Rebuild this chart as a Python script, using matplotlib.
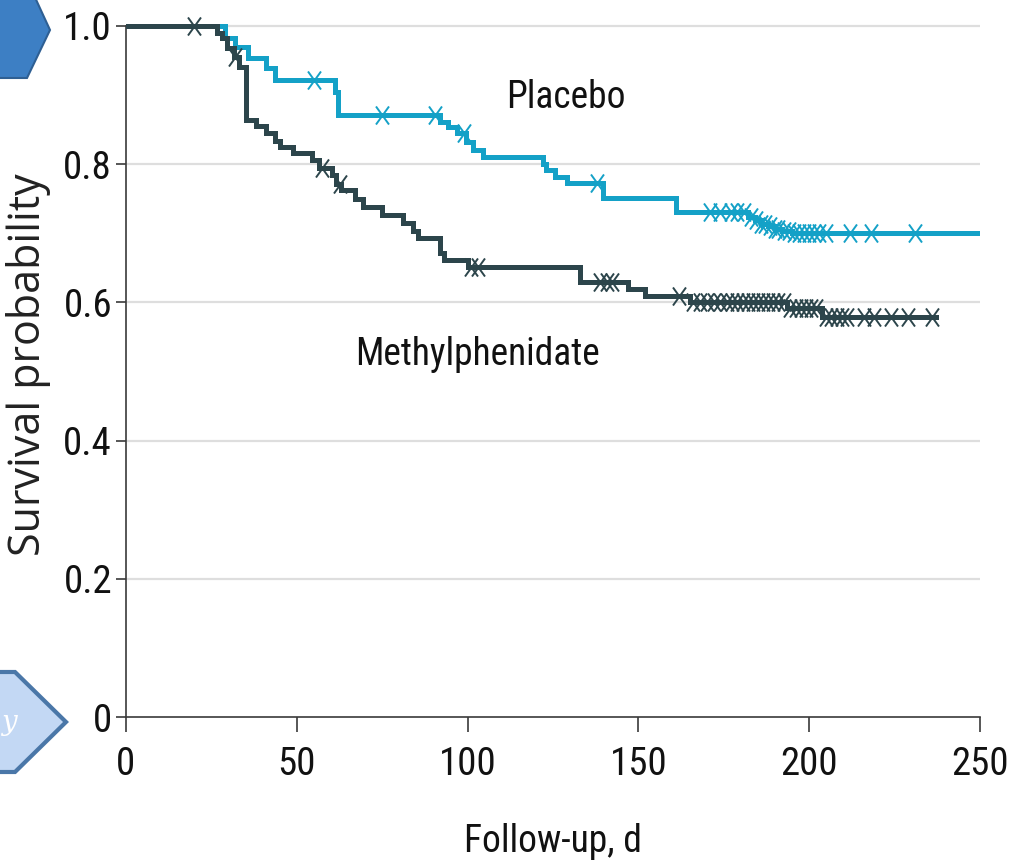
import numpy as np
import matplotlib
matplotlib.use("Agg")
import matplotlib.pyplot as plt
from matplotlib.path import Path
from matplotlib.patches import Polygon
from matplotlib import font_manager

# ---------------- data ----------------
placebo_times = [0, 29, 32, 35.7, 41, 43.6, 61.3, 62, 92, 94.3, 96.8, 99.5, 101.6, 104.5,
                 122, 123, 125.6, 129, 139.6, 161, 182, 184, 186, 188, 190, 192, 195]
placebo_surv = [1.0, 0.983, 0.970, 0.954, 0.939, 0.922, 0.905, 0.871, 0.861, 0.854, 0.845, 0.832,
                0.820, 0.810, 0.800, 0.792, 0.781, 0.773, 0.751, 0.731, 0.724, 0.719, 0.714,
                0.710, 0.706, 0.703, 0.700]
placebo_end = 250
placebo_censor = [55, 75, 90.5, 99, 138, 171, 174, 177, 179, 181, 183, 184.5, 186, 187, 188.5,
                  190, 191, 192.5, 194, 195.5, 197, 198.5, 200, 201.5, 203, 205, 212, 218, 231]

mph_times = [0, 26.6, 28, 29.5, 31.5, 33, 35, 38, 41, 43.5, 45, 49, 54.4, 56.5, 60.3, 61.5, 63,
             67, 69.4, 74.9, 81, 84, 85.5, 92, 93, 100, 133, 147, 152, 165, 193.5, 203.7]
mph_surv = [1.0, 0.990, 0.983, 0.968, 0.955, 0.940, 0.864, 0.855, 0.845, 0.834, 0.825, 0.816,
            0.806, 0.795, 0.784, 0.772, 0.762, 0.749, 0.738, 0.726, 0.715, 0.704, 0.693, 0.671,
            0.661, 0.651, 0.630, 0.620, 0.609, 0.600, 0.592, 0.579]
mph_end = 237
mph_censor = [20, 32, 57.4, 62.6, 101, 103, 138.8, 140.8, 142.3, 162, 166, 168, 170, 172, 174,
              176, 177.5, 179, 180.5, 182, 183.5, 185, 186.5, 188, 189.5, 191, 192.5, 194.5, 196,
              197.5, 199, 200.5, 202, 205, 206.5, 208, 209.5, 211, 216, 219, 224, 229, 236]

x_ticks = [0, 50, 100, 150, 200, 250]
x_ticklabels = ["0", "50", "100", "150", "200", "250"]
y_ticks = [0, 0.2, 0.4, 0.6, 0.8, 1.0]
y_ticklabels = ["0", "0.2", "0.4", "0.6", "0.8", "1.0"]

# ---------------- style ----------------
W, H = 1009, 866
CYAN = "#14a1c7"
DARK = "#2c454b"

# prefer a condensed face if one is installed, else Liberation Sans
_names = {f.name for f in font_manager.fontManager.ttflist}
_condensed = None
for cand in ["Liberation Sans Narrow", "Roboto Condensed", "Open Sans Condensed",
             "Noto Sans Condensed", "DejaVu Sans Condensed"]:
    if cand in _names:
        _condensed = cand
        break
if _condensed is not None:
    TXT = [_condensed, "DejaVu Sans"]
    FS = 27
else:
    TXT = ["Liberation Sans", "DejaVu Sans"]
    FS = 23

fig = plt.figure(figsize=(W / 100, H / 100), dpi=100)
fig.patch.set_facecolor("white")

# axes in pixel geometry: x 126..980, y(1.0)=26, y(0)=717
left, right = 126 / W, 980 / W
y0px, y1px = 717, 26
ytop = 1.02
top_px = y0px - (y0px - y1px) * ytop
ax = fig.add_axes([left, 1 - y0px / H, right - left, (y0px - top_px) / H])
ax.set_xlim(0, 250)
ax.set_ylim(0, ytop)

for s in ["top", "right"]:
    ax.spines[s].set_visible(False)
ax.spines["left"].set_bounds(0, 1.0)
for s in ["left", "bottom"]:
    ax.spines[s].set_color("#3a3a3a")
    ax.spines[s].set_linewidth(1.2)

for yv in y_ticks[1:]:
    ax.axhline(yv, color="#dedede", lw=1.6, zorder=0)

ax.set_xticks(x_ticks)
ax.set_xticklabels(x_ticklabels, family=TXT, fontsize=FS + 1, color="#111111")
ax.set_yticks(y_ticks)
ax.set_yticklabels(y_ticklabels, family=TXT, fontsize=FS + 1, color="#111111")
ax.tick_params(axis="x", length=11, width=1.2, color="#3a3a3a", pad=10)
ax.tick_params(axis="y", length=7, width=1.2, color="#3a3a3a", pad=3)

# censor marker: tall narrow x
xmark = Path([(-0.36, -0.5), (0.36, 0.5), (-0.36, 0.5), (0.36, -0.5)],
             [Path.MOVETO, Path.LINETO, Path.MOVETO, Path.LINETO])


def draw_km(times, surv, end, censor, color):
    t = np.array(times + [end], dtype=float)
    s = np.array(surv + [surv[-1]], dtype=float)
    ax.step(t, s, where="post", color=color, lw=3.6, solid_joinstyle="miter", zorder=3)
    c = np.array(censor, dtype=float)
    idx = np.searchsorted(np.array(times), c, side="right") - 1
    cs = np.array(surv)[idx]
    ax.plot(c, cs, linestyle="none", marker=xmark, markersize=13, markeredgewidth=1.4,
            markeredgecolor=color, markerfacecolor="none", zorder=4)


draw_km(placebo_times, placebo_surv, placebo_end, placebo_censor, CYAN)
draw_km(mph_times, mph_surv, mph_end, mph_censor, DARK)

ax.text(128.8, 0.897, "Placebo", family=TXT, fontsize=FS, ha="center", va="center", color="#111111")
ax.text(103, 0.524, "Methylphenidate", family=TXT, fontsize=FS, ha="center", va="center", color="#111111")

ax.set_xlabel("Follow-up, d", family=TXT, fontsize=FS, color="#111111")
ax.xaxis.set_label_coords(0.5, -0.15)
ax.set_ylabel("Survival probability", family=["Open Sans", "DejaVu Sans"], fontsize=31, color="#222222")
ax.yaxis.set_label_coords(-0.088, 0.5)


def px(pts):
    return [(x / W, 1 - y / H) for x, y in pts]


# decorative slide arrows on the left edge
top_arrow = Polygon(px([(-5, -20), (27, -20), (50, 30), (27, 78), (-5, 78)]), closed=True,
                    transform=fig.transFigure, facecolor="#3d7fc4", edgecolor="#2e5f93", lw=1.5)
fig.patches.append(top_arrow)
bot_arrow = Polygon(px([(-5, 672), (15, 672), (66, 722), (15, 772), (-5, 772)]), closed=True,
                    transform=fig.transFigure, facecolor="#c3d8f4", edgecolor="#4a77a8", lw=3)
fig.patches.append(bot_arrow)
fig.text(1 / W, 1 - 722 / H, "y", family="DejaVu Serif", style="italic", fontsize=20,
         color="white", ha="left", va="center")

fig.savefig("out.png", dpi=100)
